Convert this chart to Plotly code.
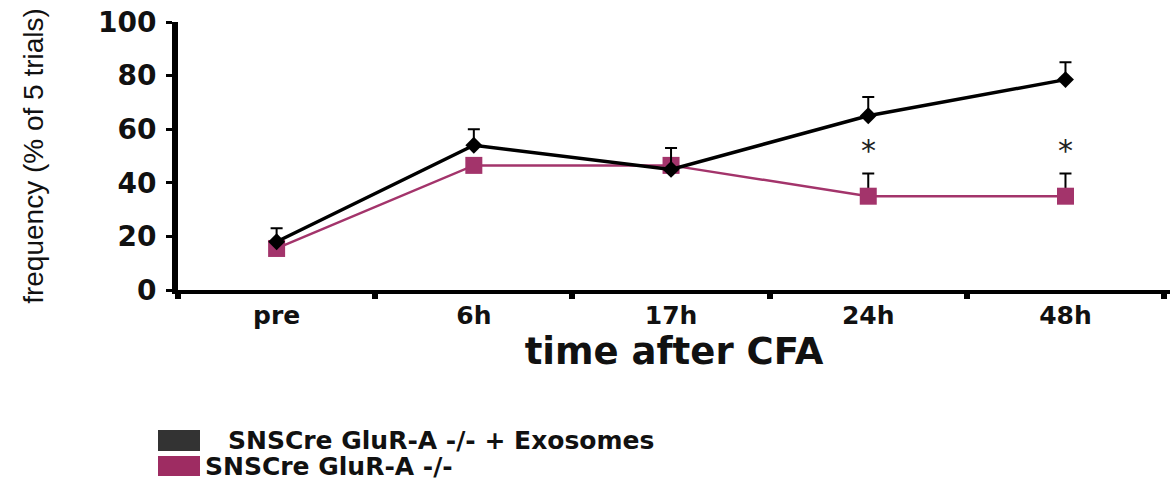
import plotly.graph_objects as go

categories = ["pre", "6h", "17h", "24h", "48h"]
exo_values = [18, 54, 45, 65, 78.5]
exo_err = [5, 6, 8, 7, 6.5]
ko_values = [15.5, 46.5, 46.5, 35, 35]
ko_err = [0, 0, 0, 8.5, 8.5]
star_cats = ["24h", "48h"]
star_y = [52, 52]
names = [" SNSCre GluR-A -/- + Exosomes", "SNSCre GluR-A -/-"]
legend_colors = ["#333333", "#9e2c62"]

BLACK = "#000000"
PINK = "#a3346b"
BOLD = "DejaVu Sans"
NARROW = "Liberation Sans Narrow, Liberation Sans"

fig = go.Figure()
fig.add_trace(go.Scatter(
    x=categories, y=ko_values, mode="lines+markers", name=names[1],
    line=dict(color=PINK, width=2.5),
    marker=dict(symbol="square", size=17, color=PINK),
    error_y=dict(type="data", array=ko_err, arrayminus=[0]*5, color=BLACK, thickness=2, width=6),
    showlegend=False))
fig.add_trace(go.Scatter(
    x=categories, y=exo_values, mode="lines+markers", name=names[0],
    line=dict(color=BLACK, width=3.5),
    marker=dict(symbol="diamond", size=13, color=BLACK),
    error_y=dict(type="data", array=exo_err, arrayminus=[0]*5, color=BLACK, thickness=2, width=6),
    showlegend=False))

for c, y in zip(star_cats, star_y):
    fig.add_annotation(x=c, y=y, text="*", showarrow=False,
                       font=dict(family=BOLD, size=30, color="#222"), yanchor="middle")

# manual legend (swatch + label), positioned in paper coordinates
PL, PW, PT, PH = 178, 992, 22, 268
def px_x(v):
    return (v - PL) / PW
def px_y(v):
    return (PT + PH - v) / PH

legend_rows = [(430, 451, 230), (456, 476, 203)]
for (top, bot, tx), name, col in zip(legend_rows, names, legend_colors):
    fig.add_shape(type="rect", xref="paper", yref="paper",
                  x0=px_x(158), x1=px_x(200), y0=px_y(bot), y1=px_y(top),
                  fillcolor=col, line=dict(width=0))
    fig.add_annotation(xref="paper", yref="paper", x=px_x(tx - 4 if name.startswith(" ") else tx),
                       y=px_y((top + bot) / 2), text=name.strip(), showarrow=False,
                       xanchor="left", yanchor="middle",
                       font=dict(family=BOLD, size=25, weight="bold", color="#111"))

fig.update_layout(
    width=1170, height=484,
    margin=dict(l=178, r=0, t=22, b=194, autoexpand=False),
    plot_bgcolor="white", paper_bgcolor="white",
    font=dict(family=BOLD, color="#111"),
    showlegend=False,
    xaxis=dict(type="category", range=[-0.5, 4.53], showline=True, linecolor=BLACK, linewidth=3.5,
               ticks="outside", tickson="boundaries", ticklen=5, tickwidth=6, tickcolor=BLACK,
               tickfont=dict(family=BOLD, size=25, weight="bold"), showgrid=False, zeroline=False,
               title=dict(text="time after CFA", font=dict(family=BOLD, size=37, weight="bold"), standoff=8)),
    yaxis=dict(range=[0, 100], tickvals=[0, 20, 40, 60, 80, 100], showline=True, linecolor=BLACK,
               linewidth=6, ticks="outside", ticklen=6, tickwidth=3, tickcolor=BLACK,
               ticklabelstandoff=4,
               tickfont=dict(family=BOLD, size=28, weight="bold"), showgrid=False, zeroline=False,
               title=dict(text="frequency (% of 5 trials)",
                          font=dict(family=NARROW, size=28), standoff=48)),
)

fig.write_html("out.html", config={"displayModeBar": False},
               post_script="document.body.style.margin='0';")
